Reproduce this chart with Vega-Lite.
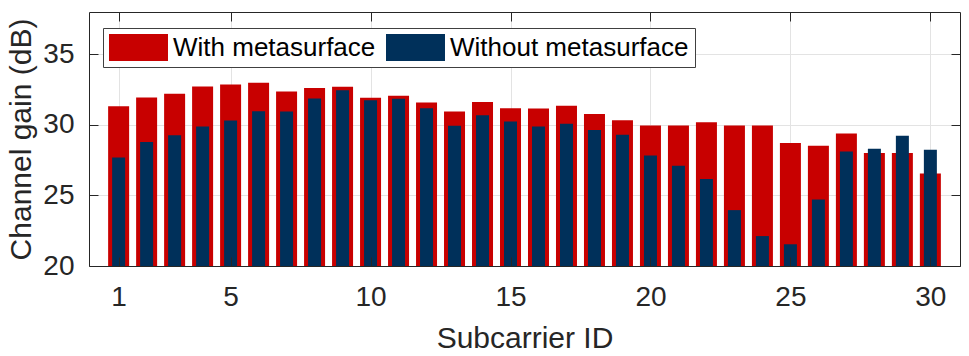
{
  "$schema": "https://vega.github.io/schema/vega-lite/v6.json",
  "width": 871,
  "height": 254,
  "autosize": {"type": "none"},
  "padding": {"left": 89, "top": 12, "right": 9, "bottom": 90},
  "background": "white",
  "config": {
    "view": {"stroke": null},
    "font": "Liberation Sans",
    "axis": {
      "labelFont": "Liberation Sans",
      "titleFont": "Liberation Sans",
      "labelColor": "#262626",
      "titleColor": "#262626",
      "titleFontWeight": "normal",
      "domainColor": "#262626",
      "tickColor": "#262626",
      "gridColor": "#e3e3e3",
      "gridWidth": 1,
      "domainWidth": 1,
      "tickWidth": 1
    }
  },
  "data": {
    "values": [
      {"id": 1, "series": "With metasurface", "gain": 31.32},
      {"id": 2, "series": "With metasurface", "gain": 31.94},
      {"id": 3, "series": "With metasurface", "gain": 32.20},
      {"id": 4, "series": "With metasurface", "gain": 32.72},
      {"id": 5, "series": "With metasurface", "gain": 32.86},
      {"id": 6, "series": "With metasurface", "gain": 32.98},
      {"id": 7, "series": "With metasurface", "gain": 32.36},
      {"id": 8, "series": "With metasurface", "gain": 32.62},
      {"id": 9, "series": "With metasurface", "gain": 32.70},
      {"id": 10, "series": "With metasurface", "gain": 31.92},
      {"id": 11, "series": "With metasurface", "gain": 32.06},
      {"id": 12, "series": "With metasurface", "gain": 31.59},
      {"id": 13, "series": "With metasurface", "gain": 30.95},
      {"id": 14, "series": "With metasurface", "gain": 31.63},
      {"id": 15, "series": "With metasurface", "gain": 31.18},
      {"id": 16, "series": "With metasurface", "gain": 31.16},
      {"id": 17, "series": "With metasurface", "gain": 31.35},
      {"id": 18, "series": "With metasurface", "gain": 30.78},
      {"id": 19, "series": "With metasurface", "gain": 30.33},
      {"id": 20, "series": "With metasurface", "gain": 29.96},
      {"id": 21, "series": "With metasurface", "gain": 29.96},
      {"id": 22, "series": "With metasurface", "gain": 30.19},
      {"id": 23, "series": "With metasurface", "gain": 29.96},
      {"id": 24, "series": "With metasurface", "gain": 29.96},
      {"id": 25, "series": "With metasurface", "gain": 28.71},
      {"id": 26, "series": "With metasurface", "gain": 28.52},
      {"id": 27, "series": "With metasurface", "gain": 29.39},
      {"id": 28, "series": "With metasurface", "gain": 28.00},
      {"id": 29, "series": "With metasurface", "gain": 28.00},
      {"id": 30, "series": "With metasurface", "gain": 26.56},
      {"id": 1, "series": "Without metasurface", "gain": 27.69},
      {"id": 2, "series": "Without metasurface", "gain": 28.78},
      {"id": 3, "series": "Without metasurface", "gain": 29.27},
      {"id": 4, "series": "Without metasurface", "gain": 29.89},
      {"id": 5, "series": "Without metasurface", "gain": 30.31},
      {"id": 6, "series": "Without metasurface", "gain": 30.97},
      {"id": 7, "series": "Without metasurface", "gain": 30.95},
      {"id": 8, "series": "Without metasurface", "gain": 31.87},
      {"id": 9, "series": "Without metasurface", "gain": 32.46},
      {"id": 10, "series": "Without metasurface", "gain": 31.75},
      {"id": 11, "series": "Without metasurface", "gain": 31.85},
      {"id": 12, "series": "Without metasurface", "gain": 31.18},
      {"id": 13, "series": "Without metasurface", "gain": 29.94},
      {"id": 14, "series": "Without metasurface", "gain": 30.69},
      {"id": 15, "series": "Without metasurface", "gain": 30.24},
      {"id": 16, "series": "Without metasurface", "gain": 29.89},
      {"id": 17, "series": "Without metasurface", "gain": 30.08},
      {"id": 18, "series": "Without metasurface", "gain": 29.63},
      {"id": 19, "series": "Without metasurface", "gain": 29.30},
      {"id": 20, "series": "Without metasurface", "gain": 27.83},
      {"id": 21, "series": "Without metasurface", "gain": 27.11},
      {"id": 22, "series": "Without metasurface", "gain": 26.16},
      {"id": 23, "series": "Without metasurface", "gain": 23.96},
      {"id": 24, "series": "Without metasurface", "gain": 22.12},
      {"id": 25, "series": "Without metasurface", "gain": 21.54},
      {"id": 26, "series": "Without metasurface", "gain": 24.72},
      {"id": 27, "series": "Without metasurface", "gain": 28.12},
      {"id": 28, "series": "Without metasurface", "gain": 28.31},
      {"id": 29, "series": "Without metasurface", "gain": 29.23},
      {"id": 30, "series": "Without metasurface", "gain": 28.24}
    ]
  },
  "layer": [
    {
      "transform": [{"filter": "datum.series === 'With metasurface'"}],
      "mark": {"type": "bar", "size": 21, "clip": true},
      "encoding": {
        "x": {
          "field": "id", "type": "quantitative",
          "scale": {"domain": [0.12, 30.88], "nice": false, "zero": false},
          "axis": {
            "orient": "bottom", "zindex": 1, "grid": false,
            "values": [1, 5, 10, 15, 20, 25, 30],
            "title": "Subcarrier ID", "titleFontSize": 30, "titlePadding": 12,
            "labelFontSize": 28, "labelPadding": 26, "tickSize": -9,
            "labelFlush": false
          }
        },
        "y": {
          "field": "gain", "type": "quantitative",
          "scale": {"domain": [20, 38], "nice": false, "zero": false},
          "axis": {
            "orient": "left", "zindex": 1, "grid": false,
            "values": [20, 25, 30, 35],
            "title": "Channel gain (dB)", "titleFontSize": 30, "titlePadding": 6,
            "labelFontSize": 28, "labelPadding": 24, "tickSize": -9,
            "labelFlush": false
          }
        },
        "y2": {"datum": 20},
        "color": {
          "field": "series", "type": "nominal",
          "scale": {"domain": ["With metasurface", "Without metasurface"], "range": ["#c80000", "#00305a"]},
          "legend": {
            "title": null,
            "orient": "none", "legendX": 14, "legendY": 16,
            "direction": "horizontal",
            "symbolType": "M-1,-1H3.37V1H-1Z",
            "symbolSize": 729,
            "symbolStrokeWidth": 0,
            "labelFont": "Liberation Sans",
            "labelFontSize": 26,
            "labelColor": "#000000",
            "labelLimit": 400,
            "labelOffset": 37,
            "columnPadding": 10,
            "padding": 6,
            "strokeColor": "#404040",
            "fillColor": "white",
            "cornerRadius": 0
          }
        }
      }
    },
    {
      "transform": [{"filter": "datum.series === 'Without metasurface'"}],
      "mark": {"type": "bar", "size": 13, "clip": true},
      "encoding": {
        "x": {
          "field": "id", "type": "quantitative",
          "axis": {
            "orient": "top", "zindex": 0, "grid": true, "labels": false, "title": null,
            "values": [1, 5, 10, 15, 20, 25, 30], "tickSize": -9
          }
        },
        "y": {
          "field": "gain", "type": "quantitative",
          "axis": {
            "orient": "right", "zindex": 0, "grid": true, "labels": false, "title": null,
            "values": [20, 25, 30, 35], "tickSize": -9
          }
        },
        "y2": {"datum": 20},
        "color": {"field": "series", "type": "nominal"}
      }
    }
  ]
}
